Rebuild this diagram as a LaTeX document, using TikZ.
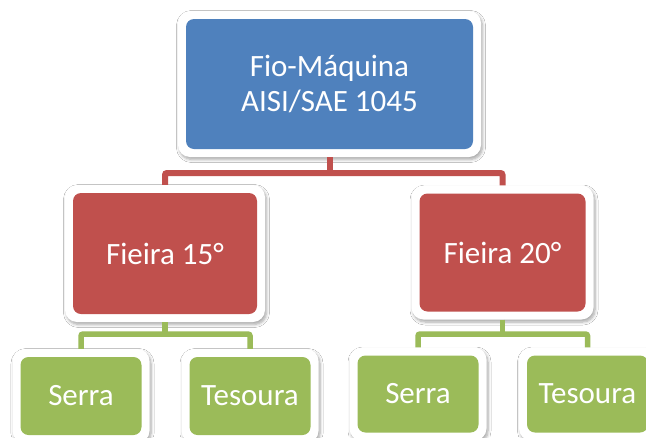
\documentclass[tikz,border=0pt]{standalone}
\usepackage{fontspec}
\setmainfont{Carlito}
\usetikzlibrary{shadows.blur}
\definecolor{cblue}{HTML}{4F81BD}
\definecolor{cred}{HTML}{C0504D}
\definecolor{cgreen}{HTML}{9BBB59}
\tikzset{
  box/.style={fill=white, draw=none, rounded corners=12pt, inner sep=0pt,
    text=white, align=center, font=\fontsize{31}{35}\selectfont,
    blur shadow={shadow blur steps=6, shadow xshift=1.5pt, shadow yshift=-2.5pt,
      shadow blur radius=3pt, shadow opacity=35},
    path picture={\fill[#1, rounded corners=8pt]
      ([shift={(8pt,-8pt)}]path picture bounding box.north west) rectangle
      ([shift={(-8pt,8pt)}]path picture bounding box.south east);}},
  redline/.style={draw=cred, line width=6pt, rounded corners=2pt},
  greenline/.style={draw=cgreen, line width=5.5pt, rounded corners=2pt}
}
\begin{document}
\begin{tikzpicture}[x=1pt,y=-1pt]
\useasboundingbox[fill=white] (0,0) rectangle (646,437);
\begin{scope}
\clip (0,0) rectangle (646,437);
\node[box=cblue, minimum width=303pt, minimum height=146pt] (top) at (329.5,84) {Fio-Máquina\\AISI/SAE 1045};
\node[box=cred, minimum width=200pt, minimum height=137pt] (f15) at (165,253.5) {Fieira 15°};
\node[box=cred, minimum width=182pt, minimum height=134pt] (f20) at (502.5,252.5) {Fieira 20°};
\node[box=cgreen, minimum width=137pt, minimum height=94pt] (s1) at (81,396) {Serra};
\node[box=cgreen, minimum width=137pt, minimum height=94pt] (t1) at (250,396) {Tesoura};
\node[box=cgreen, minimum width=137pt, minimum height=93pt] (s2) at (418,394) {Serra};
\node[box=cgreen, minimum width=137pt, minimum height=93pt] (t2) at (587.5,394) {Tesoura};
\coordinate (rb) at (329.5,173);
\coordinate (g1) at (165,334);
\coordinate (g2) at (502.5,334);
\draw[redline] (top.south) -- (rb);
\draw[redline] (f15.north) |- (rb) -| (f20.north);
\draw[greenline] (f15.south) -- (g1);
\draw[greenline] (s1.north) |- (g1) -| (t1.north);
\draw[greenline] (f20.south) -- (g2);
\draw[greenline] (s2.north) |- (g2) -| (t2.north);
\end{scope}
\end{tikzpicture}
\end{document}
